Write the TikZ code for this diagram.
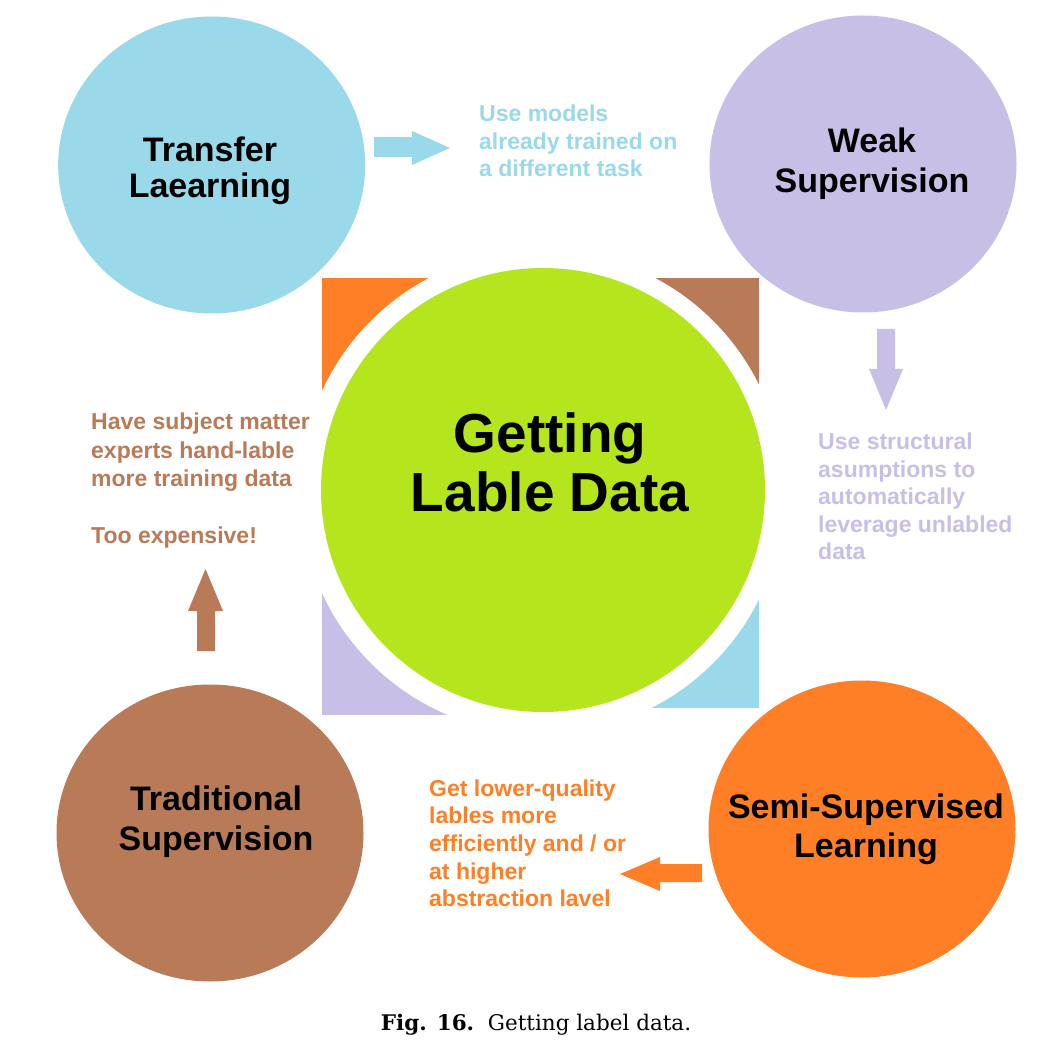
\documentclass[tikz,border=0pt]{standalone}
\usepackage{fontspec}
\newfontfamily\arl{Liberation Sans}
\newfontfamily\capfont{DejaVu Serif}
\usetikzlibrary{shapes.geometric}
\definecolor{cyanC}{RGB}{153,217,234}
\definecolor{lavC}{RGB}{200,191,231}
\definecolor{brownC}{RGB}{185,122,87}
\definecolor{orangeC}{RGB}{255,127,39}
\definecolor{greenC}{RGB}{181,230,29}
\begin{document}
\begin{tikzpicture}[x=1pt,y=-1pt,
  blob/.style={ellipse,inner sep=0pt,minimum width=307pt,minimum height=297pt},
  bigtxt/.style={inner sep=0pt,anchor=base,font=\arl\bfseries\fontsize{34}{39}\selectfont},
  sidetxt/.style={inner sep=0pt,anchor=base west,font=\arl\bfseries\fontsize{23}{27.7}\selectfont},
  blockarrow/.style={draw=none}]
\useasboundingbox[fill=white] (0,0) rectangle (1061,1056);
% corner pieces of the square behind the core
\fill[orangeC] (322,278) rectangle (542,492);
\fill[brownC] (542,278) rectangle (759,492);
\fill[lavC] (322,492) rectangle (542,715);
\fill[cyanC] (542,492) rectangle (759,708);
\fill[white] (542,492) circle (242pt);
% core
\node[circle,fill=greenC,inner sep=0pt,minimum size=444pt] (core) at (543,490) {};
\node[inner sep=0pt,anchor=base,font=\arl\bfseries\fontsize{55}{59}\selectfont] (coretxt) at (550,453)
  {\begin{tabular}[t]{@{}c@{}}Getting\\Lable Data\end{tabular}};
% outer circles
\node[blob,fill=cyanC] (tl) at (211.7,165) {};
\node[blob,fill=lavC] (ws) at (863,164) {};
\node[blob,fill=brownC] (ts) at (210,833) {};
\node[blob,fill=orangeC] (ssl) at (862,829) {};
\node[bigtxt,font=\arl\bfseries\fontsize{34}{36}\selectfont] (tltxt) at (210,162)
  {\begin{tabular}[t]{@{}c@{}}Transfer\\Laearning\end{tabular}};
\node[bigtxt,font=\arl\bfseries\fontsize{34}{40}\selectfont] (wstxt) at (872,153)
  {\begin{tabular}[t]{@{}c@{}}Weak\\Supervision\end{tabular}};
\node[bigtxt,font=\arl\bfseries\fontsize{34}{40}\selectfont] (tstxt) at (216,810)
  {\begin{tabular}[t]{@{}c@{}}Traditional\\Supervision\end{tabular}};
\node[bigtxt] (ssltxt) at (866,818)
  {\begin{tabular}[t]{@{}c@{}}Semi-Supervised\\Learning\end{tabular}};
% side texts
\node[sidetxt,text=cyanC,font=\arl\bfseries\fontsize{23}{27.5}\selectfont] (tlnote) at (479,122)
  {\begin{tabular}[t]{@{}l@{}}Use models\\already trained on\\a different task\end{tabular}};
\node[sidetxt,text=lavC,font=\arl\bfseries\fontsize{23}{27.5}\selectfont] (wsnote) at (818,450)
  {\begin{tabular}[t]{@{}l@{}}Use structural\\asumptions to\\automatically\\leverage unlabled\\data\end{tabular}};
\node[sidetxt,text=brownC,font=\arl\bfseries\fontsize{23}{28.3}\selectfont] (tsnote) at (91,430)
  {\begin{tabular}[t]{@{}l@{}}Have subject matter\\experts hand-lable\\more training data\\ \\Too expensive!\end{tabular}};
\node[sidetxt,text=orangeC] (sslnote) at (429,796)
  {\begin{tabular}[t]{@{}l@{}}Get lower-quality\\lables more\\efficiently and / or\\at higher\\abstraction lavel\end{tabular}};
% block arrows
\fill[cyanC] (374,137) -- (412,137) -- (412,131) -- (450,148) -- (412,165) -- (412,157) -- (374,157) -- cycle;
\fill[lavC] (877,329) -- (895,329) -- (895,369) -- (903,369) -- (886,410) -- (869,369) -- (877,369) -- cycle;
\fill[brownC] (197,651) -- (197,611) -- (188,611) -- (205.5,569) -- (223,611) -- (215,611) -- (215,651) -- cycle;
\fill[orangeC] (702,864) -- (660,864) -- (660,857) -- (620,874) -- (660,891) -- (660,882) -- (702,882) -- cycle;
% caption
\node[inner sep=0pt,anchor=base,font=\capfont\fontsize{21.5}{25}\selectfont] (cap) at (536,1030)
  {\textbf{Fig. 16.}\ \ Getting label data.};
\end{tikzpicture}
\end{document}
